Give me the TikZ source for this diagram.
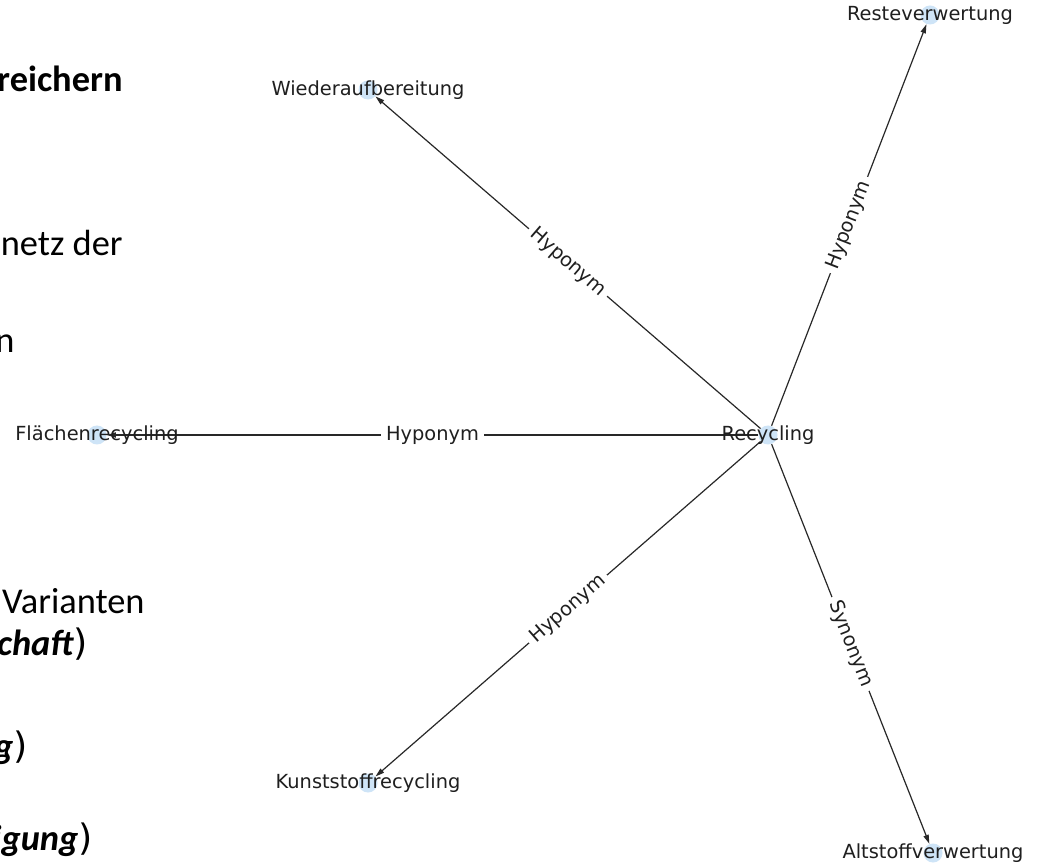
\documentclass[tikz,border=0pt]{standalone}
\usepackage{fontspec}
\setmainfont{DejaVu Sans}
\newfontfamily\slidefont{Carlito}
\usetikzlibrary{arrows.meta}
\definecolor{nodeblue}{RGB}{206,228,247}
\definecolor{edgegray}{RGB}{40,40,40}
\tikzset{
  gdot/.style={circle,fill=nodeblue,draw=none,minimum size=9.5pt,inner sep=0pt},
  glab/.style={font=\fontsize{9.7}{11}\selectfont,text=black!88,inner sep=0pt},
  gedge/.style={draw=edgegray,line width=0.6pt,-{Triangle[length=4.5pt,width=2.6pt]}},
  elab/.style={font=\fontsize{9.7}{11}\selectfont,text=black!88,fill=white,inner sep=2.5pt,sloped},
  slide/.style={font=\slidefont\fontsize{18.2}{20}\selectfont,anchor=base east,inner sep=0pt,text=black}
}
\begin{document}
\begin{tikzpicture}[x=0.5pt,y=-0.5pt]
\useasboundingbox (0,0) rectangle (1040,866);
\clip (0,0) rectangle (1040,866);
\fill[white] (0,0) rectangle (1040,866);
% slide text (cut off at left)
\node[slide] (t1) at (123,92) {\bfseries reichern};
\node[slide] (t2) at (123,256) {netz der};
\node[slide] (t3) at (15,353) {n};
\node[slide] (t4) at (145,613) {Varianten};
\node[slide] (t5) at (88,655) {\bfseries\itshape chaft\normalfont)};
\node[slide] (t6) at (28,758) {\bfseries\itshape g\normalfont)};
\node[slide] (t7) at (93,850) {\bfseries\itshape igung\normalfont)};
% graph nodes
\node[gdot] (rec) at (768,435) {};
\node[gdot] (rest) at (930,15) {};
\node[gdot] (wied) at (368,90) {};
\node[gdot] (flae) at (97,435) {};
\node[gdot] (kuns) at (368,783) {};
\node[gdot] (alts) at (933,853) {};
% edges
\draw[gedge] (rec) -- node[elab] {Hyponym} (rest);
\draw[gedge] (rec) -- node[elab] {Hyponym} (wied);
\draw[gedge] (rec) -- node[elab] {Hyponym} (flae);
\draw[gedge] (rec) -- node[elab] {Hyponym} (kuns);
\draw[gedge] (rec) -- node[elab] {Synonym} (alts);
% labels
\node[glab] (lrec) at (rec) {Recycling};
\node[glab] (lrest) at (rest) {Resteverwertung};
\node[glab] (lwied) at (wied) {Wiederaufbereitung};
\node[glab] (lflae) at (flae) {Flächenrecycling};
\node[glab] (lkuns) at (kuns) {Kunststoffrecycling};
\begin{scope}
\clip (0,0) rectangle (1022,866);
\node[glab] (lalts) at (alts) {Altstoffverwertung};
\end{scope}
\end{tikzpicture}
\end{document}
